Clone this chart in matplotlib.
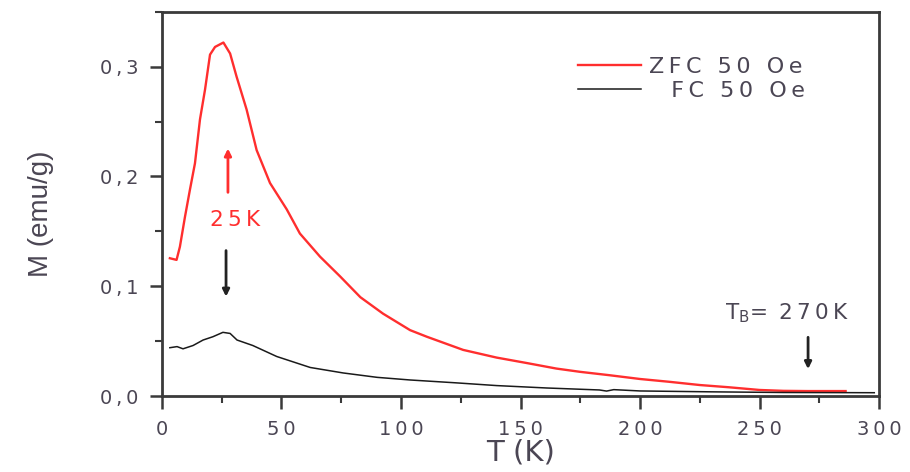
import matplotlib.pyplot as plt
import numpy as np
from matplotlib.ticker import MultipleLocator, FuncFormatter

# ZFC 50 Oe curve
t_zfc = [3.3, 6.1, 7.5, 9.6, 11.7, 13.8, 15.9, 18.0, 20.1, 22.2, 25.7, 28.5,
         31.2, 35.4, 39.6, 45.2, 52.2, 57.7, 66.1, 74.5, 83.0, 92.5, 103.8,
         110.8, 126.0, 140.0, 152.7, 165.0, 175.0, 187.0, 200.0, 212.0, 225.0,
         237.0, 250.0, 260.0, 270.0, 286.0]
m_zfc = [0.1255, 0.124, 0.136, 0.163, 0.188, 0.212, 0.252, 0.279, 0.311, 0.318,
         0.322, 0.312, 0.291, 0.261, 0.224, 0.194, 0.170, 0.148, 0.127, 0.109,
         0.090, 0.075, 0.060, 0.054, 0.042, 0.035, 0.030, 0.025, 0.022, 0.019,
         0.0155, 0.013, 0.010, 0.008, 0.0055, 0.0047, 0.0045, 0.0045]

# FC 50 Oe curve
t_fc = [3.3, 6.3, 8.8, 13.0, 17.2, 21.3, 25.5, 28.5, 31.4, 38.0, 48.0, 62.0,
        75.8, 90.0, 103.8, 123.0, 140.0, 161.0, 183.0, 186.0, 189.0, 200.0,
        230.0, 260.0, 298.0]
m_fc = [0.044, 0.045, 0.043, 0.046, 0.051, 0.054, 0.058, 0.057, 0.051, 0.046,
        0.036, 0.026, 0.021, 0.017, 0.0146, 0.012, 0.0095, 0.0073, 0.0055,
        0.0045, 0.0058, 0.0046, 0.0038, 0.0032, 0.003]

labels = ["ZFC 50 Oe", "FC 50 Oe"]


def spaced(s, sep="\u2009"):
    # the source picture is stretched sideways, so letters get a little extra room
    return sep.join(s)


plt.rcParams["font.family"] = ["DejaVu Sans"]
plt.rcParams["mathtext.fontset"] = "dejavusans"
tick_col = "#4b4654"
spine_col = "#3a3a3a"
red = "#ff2e2e"

fig = plt.figure(figsize=(9.1, 4.72), dpi=100)
ax = fig.add_axes([0.178, 0.161, 0.788, 0.814])

ax.plot(t_zfc, m_zfc, color=red, lw=1.7, label=spaced(labels[0]))
ax.plot(t_fc, m_fc, color="#1a1a1a", lw=1.1, label="\u2002\u2002" + spaced(labels[1]))

ax.set_xlim(0, 300)
ax.set_ylim(0, 0.35)
ax.xaxis.set_major_locator(MultipleLocator(50))
ax.xaxis.set_minor_locator(MultipleLocator(25))
ax.yaxis.set_major_locator(MultipleLocator(0.1))
ax.yaxis.set_minor_locator(MultipleLocator(0.05))
ax.xaxis.set_major_formatter(FuncFormatter(lambda v, p: spaced(f"{v:.0f}")))
ax.yaxis.set_major_formatter(FuncFormatter(lambda v, p: spaced(f"{v:.1f}".replace(".", ","))))

ax.tick_params(which="major", direction="out", length=9, width=1.8,
               color=spine_col, labelsize=14, labelcolor=tick_col, pad=8)
ax.tick_params(which="minor", direction="out", length=5, width=1.5, color=spine_col)
for s in ax.spines.values():
    s.set_linewidth(2.0)
    s.set_color(spine_col)

ax.set_xlabel("T (K)", fontsize=21, color=tick_col)
ax.xaxis.set_label_coords(0.5, -0.11)
ax.set_ylabel("M (emu/g)", fontsize=20, color=tick_col, family="Liberation Sans")
ax.yaxis.set_label_coords(-0.15, 0.474)

# annotations
ax.annotate("", xy=(27.6, 0.228), xytext=(27.6, 0.183),
            arrowprops=dict(arrowstyle="-|>", color=red, lw=2, mutation_scale=10))
ax.text(30.5, 0.160, spaced("25K"), color=red, fontsize=15.5, ha="center", va="center")
ax.annotate("", xy=(26.8, 0.088), xytext=(26.8, 0.135),
            arrowprops=dict(arrowstyle="-|>", color="#222222", lw=2, mutation_scale=10))
ax.annotate("", xy=(270.3, 0.022), xytext=(270.3, 0.056),
            arrowprops=dict(arrowstyle="-|>", color="#222222", lw=2, mutation_scale=10))
ax.text(235.5, 0.0757, "T$_\\mathregular{B}$=\u2009 " + spaced("270K"), color=tick_col,
        fontsize=15.5, ha="left", va="center")

leg = ax.legend(loc="upper right", bbox_to_anchor=(0.925, 0.935), frameon=False,
                fontsize=16, handlelength=2.8, handletextpad=0.4, labelspacing=0.2)
for t in leg.get_texts():
    t.set_color(tick_col)

fig.savefig("out.png", dpi=100)
